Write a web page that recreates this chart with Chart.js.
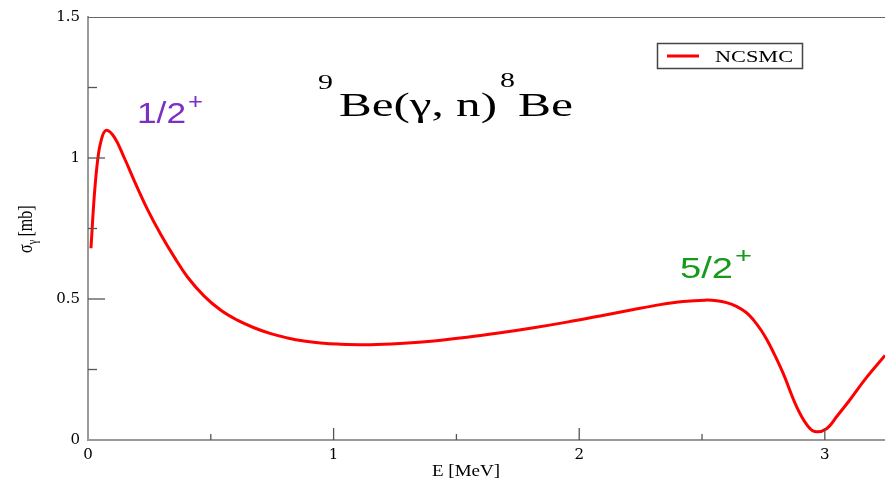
<!DOCTYPE html>
<html>
<head>
<meta charset="utf-8">
<script src="https://cdn.jsdelivr.net/npm/chart.js@4/dist/chart.umd.min.js"></script>
<style>
  html, body { margin: 0; padding: 0; background: #fff; }
  #wrap { width: 885px; height: 480px; }
</style>
</head>
<body>
<div id="wrap"><canvas id="c" width="885" height="480"></canvas></div>
<script>
// ---- data ----
const energy = [0.012, 0.026, 0.039, 0.053, 0.073, 0.107, 0.148, 0.188, 0.242, 0.297,
  0.354, 0.405, 0.473, 0.541, 0.608, 0.676, 0.744, 0.812, 0.879, 0.947,
  1.015, 1.15, 1.286, 1.408, 1.543, 1.679, 1.814, 1.95, 2.085, 2.221,
  2.33, 2.423, 2.512, 2.56, 2.60, 2.64, 2.68, 2.71, 2.74, 2.763,
  2.79, 2.83, 2.885, 2.925, 2.959, 3.007, 3.05, 3.10, 3.17, 3.245];
const sigma = [0.68, 0.87, 0.99, 1.06, 1.098, 1.074, 1.0, 0.92, 0.818, 0.728,
  0.645, 0.578, 0.510, 0.460, 0.425, 0.398, 0.377, 0.362, 0.351, 0.344,
  0.340, 0.338, 0.343, 0.351, 0.364, 0.380, 0.398, 0.418, 0.44, 0.463,
  0.480, 0.491, 0.496, 0.494, 0.487, 0.474, 0.452, 0.425, 0.390, 0.357,
  0.312, 0.237, 0.118, 0.056, 0.030, 0.040, 0.085, 0.140, 0.222, 0.30];
const seriesName = 'NCSMC';
const xMajorTicks = [1, 2, 3];
const xMinorTicks = [0.5, 1.5, 2.5];
const yMajorTicks = [0.5, 1];
const yMinorTicks = [0.25, 0.75, 1.25];
const xRange = [0, 3.245];
const yRange = [0, 1.5];

const points = energy.map((e, i) => ({ x: e, y: sigma[i] }));

function fitText(ctx, text, left, baseline, font, color, width) {
  ctx.save();
  ctx.font = font;
  ctx.fillStyle = color;
  ctx.textAlign = 'left';
  ctx.textBaseline = 'alphabetic';
  const w = ctx.measureText(text).width;
  const sx = width ? width / w : 1;
  ctx.translate(left, baseline);
  ctx.scale(sx, 1);
  ctx.fillText(text, 0, 0);
  ctx.restore();
}

const decor = {
  id: 'decor',
  afterDraw(chart) {
    const ctx = chart.ctx;
    const xs = chart.scales.x, ys = chart.scales.y;
    const a = chart.chartArea;
    ctx.save();
    // top frame line
    ctx.strokeStyle = '#666';
    ctx.lineWidth = 1.2;
    ctx.beginPath();
    ctx.moveTo(a.left, a.top + 0.5);
    ctx.lineTo(a.right, a.top + 0.5);
    ctx.stroke();
    // inward ticks
    ctx.strokeStyle = '#555';
    ctx.lineWidth = 1.3;
    const yl = a.left;
    yMajorTicks.forEach(v => { const p = ys.getPixelForValue(v); ctx.beginPath(); ctx.moveTo(yl, p); ctx.lineTo(yl + 17, p); ctx.stroke(); });
    yMinorTicks.forEach(v => { const p = ys.getPixelForValue(v); ctx.beginPath(); ctx.moveTo(yl, p); ctx.lineTo(yl + 9, p); ctx.stroke(); });
    const xb = a.bottom;
    xMajorTicks.forEach(v => { const p = xs.getPixelForValue(v); ctx.beginPath(); ctx.moveTo(p, xb); ctx.lineTo(p, xb - 12); ctx.stroke(); });
    xMinorTicks.forEach(v => { const p = xs.getPixelForValue(v); ctx.beginPath(); ctx.moveTo(p, xb); ctx.lineTo(p, xb - 6); ctx.stroke(); });
    ctx.restore();

    const serif = '"Liberation Serif", "Times New Roman", serif';
    const sans = '"Liberation Sans", Arial, sans-serif';

    // title 9Be(γ, n)8Be
    fitText(ctx, '9', 318, 89, '20px ' + serif, '#000', 15);
    fitText(ctx, 'Be(\u03B3, n)', 339, 116, '34px ' + serif, '#000', 158);
    fitText(ctx, '8', 500, 87, '20px ' + serif, '#000', 15);
    fitText(ctx, 'Be', 518, 116, '34px ' + serif, '#000', 55);

    // resonance labels
    fitText(ctx, '1/2', 137, 123, '29px ' + sans, '#7b2fc4', 49);
    fitText(ctx, '+', 188, 109, '22px ' + sans, '#7b2fc4', 15);
    fitText(ctx, '5/2', 680, 278, '30px ' + sans, '#179a1c', 53);
    fitText(ctx, '+', 735, 263, '22px ' + sans, '#179a1c', 17);

    // legend
    ctx.save();
    ctx.strokeStyle = '#444';
    ctx.lineWidth = 1.5;
    ctx.strokeRect(657.5, 43.5, 145, 25);
    ctx.strokeStyle = '#ff0000';
    ctx.lineWidth = 3;
    ctx.beginPath(); ctx.moveTo(667, 56); ctx.lineTo(699, 56); ctx.stroke();
    ctx.restore();
    fitText(ctx, seriesName, 715, 62, '17px ' + serif, '#000', 78);

    // x axis title
    fitText(ctx, 'E [MeV]', 432, 476, '17px ' + serif, '#000', 68);

    // y axis title (rotated, glyphs stretched across like the reference)
    ctx.save();
    ctx.translate(32, 253);
    ctx.rotate(-Math.PI / 2);
    ctx.scale(1, 1.3);
    ctx.fillStyle = '#000';
    ctx.font = '16px ' + serif;
    ctx.textBaseline = 'alphabetic';
    ctx.fillText('\u03C3', 0, 0);
    let w = ctx.measureText('\u03C3').width;
    ctx.font = '11px ' + serif;
    ctx.fillText('\u03B3', w, 3.5);
    w += ctx.measureText('\u03B3').width + 3;
    ctx.font = '16px ' + serif;
    ctx.fillText('[mb]', w, 0);
    ctx.restore();
  }
};

new Chart(document.getElementById('c'), {
  type: 'scatter',
  data: {
    datasets: [{
      label: seriesName,
      data: points,
      showLine: true,
      borderColor: '#ff0000',
      backgroundColor: '#ff0000',
      borderWidth: 3,
      pointRadius: 0,
      tension: 0.4,
      fill: false
    }]
  },
  options: {
    responsive: false,
    animation: false,
    layout: { padding: { top: 14, right: 0, left: 0, bottom: 0 } },
    plugins: { legend: { display: false }, tooltip: { enabled: false } },
    scales: {
      x: {
        type: 'linear',
        min: xRange[0], max: xRange[1],
        afterFit(s) { s.height = 40; },
        border: { display: true, color: '#999', width: 2 },
        grid: { display: false, drawTicks: false },
        ticks: {
          stepSize: 1,
          includeBounds: false,
          padding: 6,
          color: '#000',
          font: { family: '"DejaVu Serif", serif', size: 15 },
          maxRotation: 0,
          callback: v => (Number.isInteger(v) ? String(v) : '')
        }
      },
      y: {
        type: 'linear',
        min: yRange[0], max: yRange[1],
        afterFit(s) { s.width = 88; },
        border: { display: true, color: '#999', width: 2 },
        grid: { display: false, drawTicks: false },
        ticks: {
          stepSize: 0.5,
          padding: 8,
          color: '#000',
          font: { family: '"DejaVu Serif", serif', size: 15 },
          callback: v => String(v)
        }
      }
    }
  },
  plugins: [decor]
});
</script>
</body>
</html>
